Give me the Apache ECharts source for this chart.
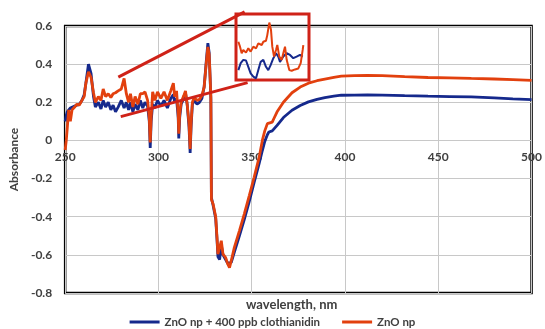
<!DOCTYPE html>
<html><head><meta charset="utf-8">
<script src="https://cdn.jsdelivr.net/npm/echarts@6/dist/echarts.min.js"></script>
<style>html,body{margin:0;padding:0;background:#fff}#c{width:545px;height:329px}</style>
</head><body><div id="c"></div>
<script>
// ---- data ----
const wavelengths = [250.0,250.6,251.1,251.9,252.8,253.7,255.1,256.3,257.6,259.0,260.2,261.1,262.5,263.9,265.2,266.2,267.8,269.2,270.4,271.7,273.1,274.5,275.7,277.0,278.4,280.1,281.6,282.8,284.0,285.0,286.3,287.5,289.0,290.3,291.6,292.8,294.2,295.1,295.6,296.1,296.9,298.1,299.5,301.3,303.0,304.8,306.6,308.0,308.7,309.7,310.6,310.9,311.4,312.2,313.6,314.5,315.4,316.4,317.0,317.5,318.2,319.2,320.7,322.0,323.3,324.5,325.6,326.5,327.2,327.7,328.1,328.2,328.4,329.3,330.7,331.4,331.9,332.8,333.7,334.6,336.0,337.2,338.1,339.0,340.7,343.4,346.0,348.7,351.3,354.0,355.7,357.0,358.4,359.2,361.0,361.9,363.6,367.0,371.6,376.0,380.4,385.0,389.2,394.0,398.0,405.0,412.0,420.0,432.0,444.5,456.0,467.7,480.0,490.0,500.0];
const absZnOClothianidin = [0.10,0.13,0.15,0.16,0.17,0.175,0.18,0.185,0.19,0.21,0.24,0.30,0.40,0.35,0.23,0.175,0.20,0.165,0.21,0.175,0.20,0.16,0.185,0.15,0.175,0.21,0.17,0.20,0.16,0.20,0.15,0.19,0.16,0.21,0.17,0.20,0.18,0.10,-0.04,0.10,0.19,0.17,0.21,0.18,0.21,0.17,0.22,0.24,0.20,0.22,0.12,0.01,0.12,0.19,0.22,0.25,0.19,0.07,-0.065,0.07,0.19,0.21,0.19,0.20,0.22,0.28,0.41,0.51,0.46,0.33,0.22,0.21,-0.30,-0.34,-0.41,-0.52,-0.61,-0.625,-0.55,-0.60,-0.625,-0.645,-0.655,-0.64,-0.585,-0.50,-0.415,-0.32,-0.22,-0.12,-0.053,-0.005,0.03,0.044,0.05,0.053,0.079,0.12,0.158,0.183,0.202,0.215,0.225,0.232,0.237,0.238,0.239,0.238,0.235,0.232,0.230,0.228,0.223,0.218,0.214];
const absZnO = [-0.05,0.00,0.06,0.16,0.10,0.16,0.175,0.19,0.185,0.21,0.23,0.30,0.36,0.33,0.25,0.20,0.23,0.21,0.27,0.23,0.245,0.225,0.245,0.25,0.26,0.27,0.325,0.245,0.20,0.245,0.175,0.23,0.19,0.245,0.245,0.255,0.21,0.12,-0.01,0.12,0.255,0.21,0.255,0.22,0.255,0.21,0.26,0.30,0.23,0.26,0.14,0.035,0.14,0.20,0.235,0.26,0.19,0.09,-0.045,0.09,0.20,0.225,0.21,0.215,0.235,0.28,0.40,0.49,0.45,0.33,0.23,0.22,-0.31,-0.333,-0.40,-0.51,-0.596,-0.605,-0.526,-0.596,-0.614,-0.649,-0.667,-0.632,-0.561,-0.474,-0.386,-0.289,-0.193,-0.088,0.0,0.05,0.088,0.092,0.096,0.115,0.15,0.20,0.25,0.28,0.30,0.313,0.322,0.331,0.337,0.34,0.341,0.34,0.335,0.33,0.328,0.325,0.322,0.319,0.315];

// inset (magnified view)
const insetBlueWl = [281.45,281.9,282.4,282.92,283.36,283.81,284.32,284.84,285.28,285.73,286.24,286.75,287.19,287.64,288.16,288.67,289.11,289.44,290.07,290.72,291.36,291.99,292.63,293.27,293.79];
const insetBlueAbs = [0.150,0.171,0.181,0.179,0.160,0.140,0.130,0.125,0.150,0.175,0.181,0.160,0.150,0.165,0.186,0.201,0.191,0.175,0.191,0.201,0.196,0.186,0.191,0.196,0.191];
const insetRedWl = [281.45,281.77,282.09,282.4,282.92,283.36,283.81,284.32,284.84,285.28,285.93,286.24,286.75,287.0,287.39,287.71,287.96,288.29,288.67,288.92,289.3,289.76,290.07,290.4,290.72,291.22,291.68,292.32,292.95,293.41,293.79,293.91];
const insetRedAbs = [0.236,0.221,0.201,0.211,0.203,0.216,0.206,0.221,0.216,0.231,0.226,0.236,0.239,0.256,0.294,0.272,0.221,0.191,0.211,0.226,0.191,0.181,0.201,0.221,0.181,0.150,0.148,0.152,0.155,0.171,0.211,0.226];

// callout lines (data coordinates of the main plot)
const calloutUpper = [[278.5, 0.332], [346.2, 0.674]];
const calloutLower = [[279.8, 0.125], [347.8, 0.303]];

const seriesNames = ['ZnO np + 400 ppb clothianidin', 'ZnO np'];
const xAxisTitle = 'wavelength, nm';
const yAxisTitle = 'Absorbance';
const yMin = -0.8, yMax = 0.6, xCross = 0;

// ---- chart ----
const BLUE = '#15298c', RED = '#e2400e', CALLOUT = '#cf2218', TXT = '#404040', GRID = '#c8c8c8';
const FONT = 'Lato';
const pairs = (xs, ys) => xs.map((x, i) => [x, ys[i]]);

const chart = echarts.init(document.getElementById('c'), null, {renderer: 'canvas'});
const option = {
  animation: false,
  backgroundColor: '#fff',
  textStyle: {fontFamily: FONT},
  title: {
    text: xAxisTitle, left: 246, top: 298, padding: 0,
    textStyle: {fontSize: 13, fontWeight: 'bold', color: TXT, fontFamily: FONT}
  },
  legend: {
    top: 316, left: 'center', padding: 0, icon: 'rect', itemWidth: 30, itemHeight: 3, itemGap: 22,
    textStyle: {fontSize: 11.5, fontWeight: 'bold', color: TXT, fontFamily: FONT},
    data: seriesNames
  },
  grid: [
    {left: 65, right: 7, top: 26, bottom: 36, show: true, borderColor: '#000', borderWidth: 2.5, backgroundColor: 'transparent', containLabel: false},
    {left: 236, top: 14, width: 73, height: 66, show: true, borderColor: CALLOUT, borderWidth: 3, backgroundColor: 'transparent', z: 10}
  ],
  xAxis: [
    {
      type: 'value', gridIndex: 0, min: 250, max: 500, interval: 50, position: 'bottom', offset: 0,
      axisLine: {show: false, onZero: false},
      axisTick: {show: false},
      axisLabel: {margin: 11, fontSize: 12, fontWeight: 'bold', color: TXT, fontFamily: FONT},
      splitLine: {show: true, lineStyle: {color: GRID, width: 1}}
    },
    {type: 'value', gridIndex: 1, min: 281, max: 295, show: false}
  ],
  yAxis: [
    {
      type: 'value', gridIndex: 0, min: yMin, max: yMax, interval: 0.2,
      name: yAxisTitle, nameLocation: 'middle', nameGap: 36,
      nameTextStyle: {fontSize: 12, fontWeight: 'bold', color: TXT, fontFamily: FONT},
      axisLine: {show: false}, axisTick: {show: false},
      axisLabel: {margin: 13, fontSize: 12, fontWeight: 'bold', color: TXT, fontFamily: FONT,
        formatter: v => String(Math.round(v * 10) / 10)},
      splitLine: {show: true, lineStyle: {color: GRID, width: 1}}
    },
    {type: 'value', gridIndex: 1, min: 0.12, max: 0.32, show: false}
  ],
  series: [
    {name: seriesNames[0], type: 'line', xAxisIndex: 0, yAxisIndex: 0, data: pairs(wavelengths, absZnOClothianidin),
      symbol: 'none', lineStyle: {color: BLUE, width: 2.8}, itemStyle: {color: BLUE}, z: 3},
    {name: seriesNames[1], type: 'line', xAxisIndex: 0, yAxisIndex: 0, data: pairs(wavelengths, absZnO),
      symbol: 'none', lineStyle: {color: RED, width: 2.8}, itemStyle: {color: RED}, z: 4},
    {name: 'inset1', type: 'line', xAxisIndex: 1, yAxisIndex: 1, data: pairs(insetBlueWl, insetBlueAbs),
      symbol: 'none', lineStyle: {color: BLUE, width: 2}, z: 11},
    {name: 'inset2', type: 'line', xAxisIndex: 1, yAxisIndex: 1, data: pairs(insetRedWl, insetRedAbs),
      symbol: 'none', lineStyle: {color: RED, width: 2}, z: 11}
  ]
};
chart.setOption(option);

// place the x-axis labels where the axis crosses y = 0 (as in the reference)
const zeroPx = chart.convertToPixel({yAxisIndex: 0}, xCross);
const bottomPx = chart.convertToPixel({yAxisIndex: 0}, yMin);
const seg = (pts) => {
  const p = chart.convertToPixel({gridIndex: 0}, pts[0]);
  const q = chart.convertToPixel({gridIndex: 0}, pts[1]);
  return {type: 'line', z: 100, shape: {x1: p[0], y1: p[1], x2: q[0], y2: q[1]},
    style: {stroke: CALLOUT, lineWidth: 3}};
};
chart.setOption({
  xAxis: [{offset: -(bottomPx - zeroPx)}, {}],
  graphic: [seg(calloutUpper), seg(calloutLower)]
});
</script>
</body></html>
